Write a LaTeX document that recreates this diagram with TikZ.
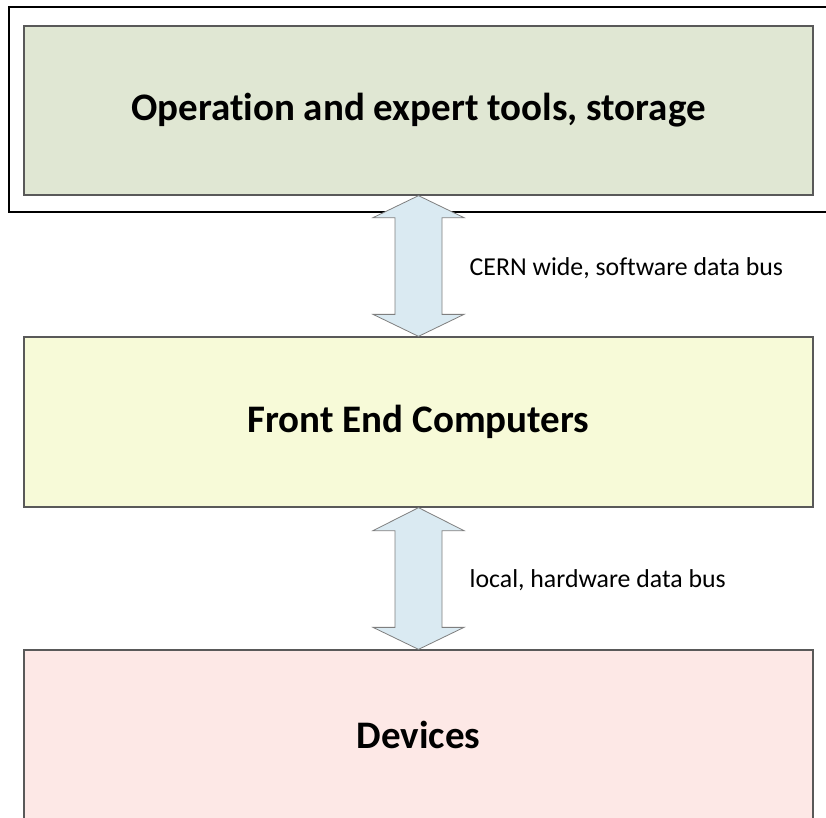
\documentclass[tikz,border=0pt]{standalone}
\usepackage{fontspec}
\setmainfont[Ligatures={NoCommon}]{Carlito}
\usetikzlibrary{calc}
\definecolor{toolsfill}{RGB}{224,231,211}
\definecolor{fecfill}{RGB}{247,250,216}
\definecolor{devfill}{RGB}{253,232,230}
\definecolor{busfill}{RGB}{218,234,242}
\definecolor{boxline}{RGB}{89,89,89}
\definecolor{busline}{RGB}{127,127,127}
\tikzset{
  layer/.style={draw=boxline, line width=1.3pt, minimum width=789pt, inner sep=0pt,
    font=\fontsize{39}{44}\selectfont\bfseries, text=black},
  busarrow/.style={draw=busline, fill=busfill, line width=0.8pt, line join=miter},
  buslabel/.style={anchor=west, inner sep=0pt, font=\fontsize{25.8}{30}\selectfont},
}
\begin{document}
\begin{tikzpicture}[x=1pt, y=-1pt]
  \useasboundingbox (0,0) rectangle (826,817);
  \clip (0,0) rectangle (826,817);

  % outer frame round the top layer
  \draw[black, line width=1.8pt] (9,7) rectangle (860,212);

  % the three layers
  \node[layer, fill=toolsfill, minimum height=169pt] (tools) at (418.5,110.5)
    {Operation and expert tools, storage};
  \node[layer, fill=fecfill, minimum height=170pt] (fec) at (418.5,422)
    {Front End Computers};
  \node[layer, fill=devfill, minimum height=170pt] (dev) at (418.5,735)
    {Devices};

  % bus arrows between the layers
  \coordinate (b1t) at (tools.south);
  \coordinate (b1b) at (fec.north);
  \coordinate (b2t) at (fec.south);
  \coordinate (b2b) at (dev.north);

  \draw[busarrow] (b1t) -- ++(45.5,22) -- ++(-22,0) -- ($(b1b)+(23.5,-22)$)
    -- ++(22,0) -- (b1b) -- ++(-45.5,-22) -- ++(22,0) -- ($(b1t)+(-23.5,22)$)
    -- ++(-22,0) -- cycle;
  \draw[busarrow] (b2t) -- ++(45.5,23) -- ++(-22,0) -- ($(b2b)+(23.5,-22)$)
    -- ++(22,0) -- (b2b) -- ++(-45.5,-22) -- ++(22,0) -- ($(b2t)+(-23.5,23)$)
    -- ++(-22,0) -- cycle;

  \node[buslabel] (bus1) at ($(b1t)!0.5!(b1b)+(51,2)$) {CERN wide, software data bus};
  \node[buslabel] (bus2) at ($(b2t)!0.5!(b2b)+(51,2)$) {local, hardware data bus};
\end{tikzpicture}
\end{document}
